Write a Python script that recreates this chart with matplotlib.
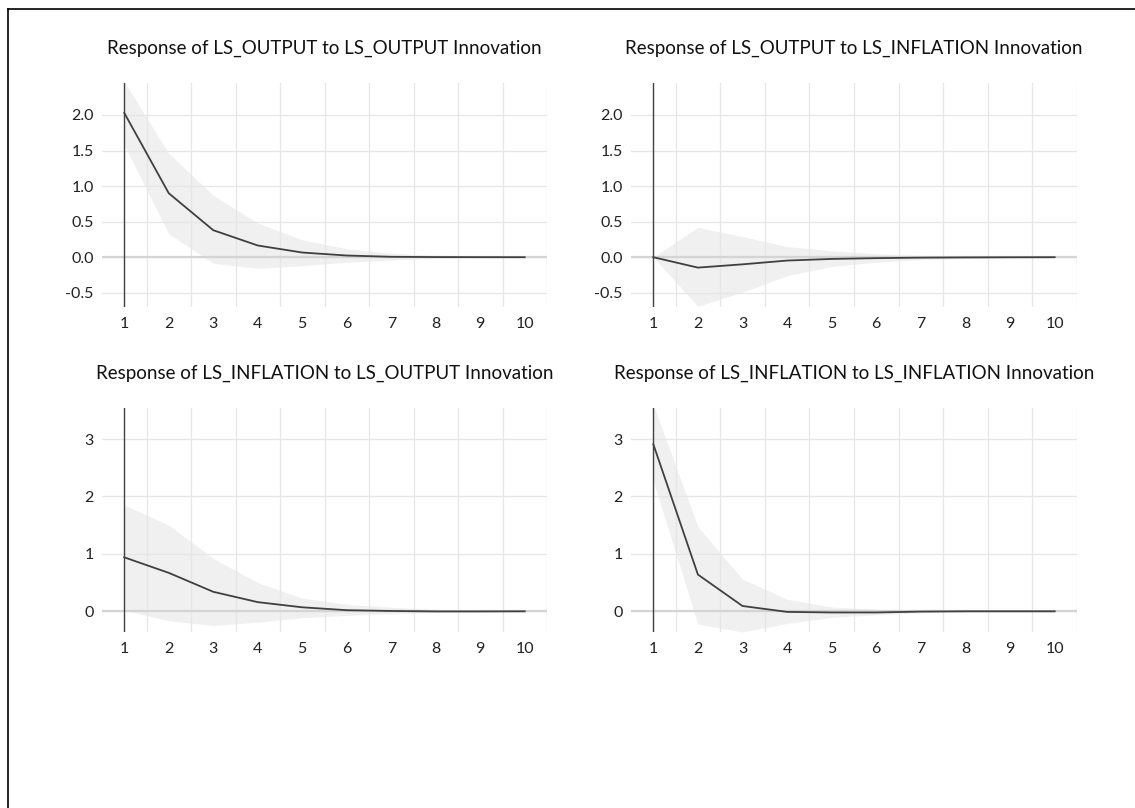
import numpy as np
import matplotlib.pyplot as plt
from matplotlib.lines import Line2D

plt.rcParams['font.family'] = ['Lato', 'DejaVu Sans']

periods = list(range(1, 11))

# response of LS_OUTPUT to LS_OUTPUT
out_out = [2.03, 0.90, 0.38, 0.165, 0.066, 0.024, 0.006, 0.002, 0.001, 0.0]
out_out_hi = [2.47, 1.46, 0.87, 0.48, 0.245, 0.118, 0.057, 0.028, 0.014, 0.007]
out_out_lo = [1.58, 0.33, -0.085, -0.155, -0.118, -0.07, -0.038, -0.019, -0.009, -0.005]

# response of LS_OUTPUT to LS_INFLATION
out_inf = [0.0, -0.146, -0.10, -0.047, -0.024, -0.013, -0.006, -0.003, -0.001, 0.0]
out_inf_hi = [0.0, 0.42, 0.29, 0.15, 0.09, 0.05, 0.025, 0.013, 0.006, 0.003]
out_inf_lo = [0.0, -0.69, -0.49, -0.26, -0.13, -0.07, -0.035, -0.018, -0.009, -0.004]

# response of LS_INFLATION to LS_OUTPUT
inf_out = [0.94, 0.67, 0.34, 0.16, 0.07, 0.02, 0.006, -0.002, -0.002, 0.0]
inf_out_hi = [1.85, 1.50, 0.92, 0.50, 0.23, 0.12, 0.07, 0.035, 0.017, 0.008]
inf_out_lo = [0.02, -0.165, -0.245, -0.19, -0.11, -0.07, -0.04, -0.02, -0.01, -0.005]

# response of LS_INFLATION to LS_INFLATION
inf_inf = [2.91, 0.64, 0.093, -0.01, -0.02, -0.02, -0.005, 0.0, 0.0, 0.0]
inf_inf_hi = [3.6, 1.47, 0.56, 0.21, 0.075, 0.035, 0.015, 0.007, 0.003, 0.001]
inf_inf_lo = [2.27, -0.22, -0.36, -0.21, -0.105, -0.06, -0.025, -0.01, -0.005, -0.002]

titles = ["Response of LS_OUTPUT to LS_OUTPUT Innovation",
          "Response of LS_OUTPUT to LS_INFLATION Innovation",
          "Response of LS_INFLATION to LS_OUTPUT Innovation",
          "Response of LS_INFLATION to LS_INFLATION Innovation"]

panels = [
    (out_out, out_out_lo, out_out_hi, (-0.70, 2.45), [-0.5, 0.0, 0.5, 1.0, 1.5, 2.0], "{:.1f}"),
    (out_inf, out_inf_lo, out_inf_hi, (-0.70, 2.45), [-0.5, 0.0, 0.5, 1.0, 1.5, 2.0], "{:.1f}"),
    (inf_out, inf_out_lo, inf_out_hi, (-0.36, 3.54), [0, 1, 2, 3], "{:.0f}"),
    (inf_inf, inf_inf_lo, inf_inf_hi, (-0.36, 3.54), [0, 1, 2, 3], "{:.0f}"),
]

W, H = 1135, 808
fig = plt.figure(figsize=(W / 100, H / 100), dpi=100)

# axes boxes in pixels: left, right, top, bottom
boxes = [(102, 547, 83, 307), (631, 1077, 83, 307),
         (102, 547, 408, 632), (631, 1077, 408, 632)]

for (vals, lo, hi, ylim, yt, fmt), (l, r, t, b), title in zip(panels, boxes, titles):
    ax = fig.add_axes([l / W, 1 - b / H, (r - l) / W, (b - t) / H])
    ax.fill_between(periods, lo, hi, color='#f0f0f0', lw=0, zorder=1)
    ax.axhline(0, color='#d4d4d4', lw=1.6, zorder=2)
    ax.plot(periods, vals, color='#404040', lw=1.3, zorder=3)
    ax.axvline(1, color='#404040', lw=1.0, zorder=4)
    ax.set_xlim(0.5, 10.5)
    ax.set_ylim(*ylim)
    ax.set_xticks(periods)
    ax.set_xticks(np.arange(1.5, 11, 1.0), minor=True)
    ax.set_yticks(yt)
    ax.set_yticklabels([fmt.format(v) for v in yt])
    ax.grid(True, which='minor', axis='x', color='#e6e6e6', lw=0.9, zorder=0)
    ax.grid(True, which='major', axis='y', color='#e6e6e6', lw=0.9, zorder=0)
    ax.tick_params(which='both', length=0, labelsize=11.5, colors='#222222')
    ax.tick_params(axis='x', pad=7)
    ax.tick_params(axis='y', pad=6)
    for s in ax.spines.values():
        s.set_visible(False)
    ax.set_title(title, fontsize=13.5, color='#111111', pad=21)

# frame around the picture (top and left edges)
fig.add_artist(Line2D([8 / W, 1], [1 - 9 / H, 1 - 9 / H], color='black', lw=1.2))
fig.add_artist(Line2D([8 / W, 8 / W], [0, 1 - 9 / H], color='black', lw=1.2))

fig.savefig('out.png', dpi=100, facecolor='white')
